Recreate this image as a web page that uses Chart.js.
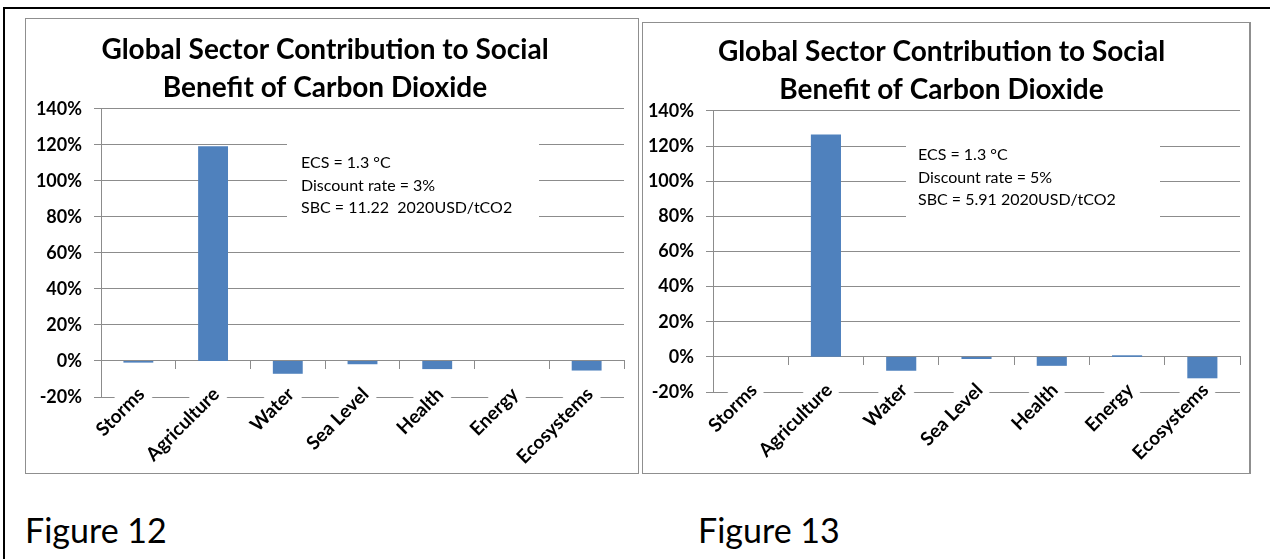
<!DOCTYPE html>
<html>
<head>
<meta charset="utf-8">
<script src="https://cdn.jsdelivr.net/npm/chart.js@4.4.0/dist/chart.umd.min.js"></script>
<style>
  body { margin: 0; width: 1270px; height: 559px; background: #fff; position: relative; overflow: hidden; font-family: Lato, sans-serif; }
  .frame { position: absolute; left: 3px; top: 7px; width: 1267px; height: 560px; border-top: 2px solid #000; border-left: 2px solid #000; }
  .panel { position: absolute; background: #fff; border: 1px solid #8f8f8f; }
  #p12 { left: 25px; top: 18px; width: 612px; height: 454px; }
  #p13 { left: 642px; top: 22px; width: 606px; height: 450px; border-right: 2px solid #8f8f8f; }
  .panel canvas { position: absolute; left: 0; top: 0; }
  .caption { position: absolute; top: 509px; font-size: 34px; color: #000; }
</style>
</head>
<body>
<div class="frame"></div>
<div class="panel" id="p12"><canvas id="fig12" width="612" height="454"></canvas></div>
<div class="panel" id="p13"><canvas id="fig13" width="606" height="450"></canvas></div>
<div class="caption" style="left:25px">Figure 12</div>
<div class="caption" style="left:698px">Figure 13</div>

<script>
const categories = ['Storms', 'Agriculture', 'Water', 'Sea Level', 'Health', 'Energy', 'Ecosystems'];
const fig12Values = [-0.009, 1.193, -0.071, -0.018, -0.045, 0, -0.053];
const fig13Values = [0, 1.266, -0.079, -0.012, -0.051, 0.009, -0.122];
const yTickMin = -0.2;
const yTickMax = 1.4;
const yTickStep = 0.2;
const chartTitle = ['Global Sector Contribution to Social', 'Benefit of Carbon Dioxide'];
const fig12Notes = ['ECS = 1.3 °C', 'Discount rate = 3%', 'SBC = 11.22  2020USD/tCO2'];
const fig13Notes = ['ECS = 1.3 °C', 'Discount rate = 5%', 'SBC = 5.91 2020USD/tCO2'];

const barColor = '#4f81bd';
const gridColor = '#8c8c8c';

// white text box with the parameters, drawn over the grid
const noteBox = {
    id: 'noteBox',
    beforeDatasetsDraw(chart, args, opts) {
        const ctx = chart.ctx;
        ctx.save();
        ctx.fillStyle = '#fff';
        ctx.fillRect(opts.x, opts.y, opts.w, opts.h);
        ctx.fillStyle = '#000';
        ctx.font = '16px Lato';
        ctx.textBaseline = 'alphabetic';
        opts.lines.forEach((t, i) => {
            ctx.fillText(t, opts.textX, opts.baseline + i * opts.lineGap);
        });
        ctx.restore();
    }
};

function makeChart(id, values, notes, axisWidth, pad, titleTop, box) {
    var ctx = document.getElementById(id).getContext('2d');
    return new Chart(ctx, {
        type: 'bar',
        data: {
            labels: categories,
            datasets: [{
                data: values,
                backgroundColor: barColor,
                borderWidth: 0,
                barPercentage: 0.4,
                categoryPercentage: 1
            }]
        },
        plugins: [noteBox],
        options: {
            responsive: false,
            animation: false,
            layout: { padding: pad },
            plugins: {
                legend: { display: false },
                tooltip: { enabled: false },
                title: {
                    display: true,
                    text: chartTitle,
                    color: '#000',
                    font: { family: 'Lato', size: 28, weight: 'bold', lineHeight: 1.357 },
                    padding: { top: titleTop, bottom: 2 }
                },
                noteBox: Object.assign({ lines: notes }, box)
            },
            scales: {
                y: {
                    min: yTickMin,
                    max: yTickMax,
                    ticks: {
                        stepSize: yTickStep,
                        color: '#000',
                        padding: 12,
                        font: { family: 'Lato', size: 18, weight: 'bold' },
                        callback: v => Math.round(v * 100) + '%'
                    },
                    grid: { color: gridColor, tickLength: 7 },
                    border: { color: gridColor },
                    afterFit(scale) { scale.width = axisWidth; }
                },
                x: {
                    position: { y: 0 },
                    offset: true,
                    grid: { offset: true, drawOnChartArea: false, tickLength: 8, color: gridColor },
                    border: { color: gridColor },
                    ticks: {
                        autoSkip: false,
                        minRotation: 45,
                        maxRotation: 45,
                        padding: 14,
                        labelOffset: -5,
                        color: '#000',
                        font: { family: 'Lato', size: 19, weight: 'bold' },
                        showLabelBackdrop: true,
                        backdropColor: '#fff',
                        backdropPadding: 3
                    }
                }
            }
        }
    });
}

document.addEventListener('DOMContentLoaded', function () {
    makeChart('fig12', fig12Values, fig12Notes, 75, { left: 0, right: 14, top: 0, bottom: 76 }, 12,
        { x: 261, y: 108, w: 252, h: 106, textX: 275, baseline: 149, lineGap: 22.5 });
    makeChart('fig13', fig13Values, fig13Notes, 70, { left: 0, right: 9, top: 0, bottom: 81 }, 10,
        { x: 263, y: 102, w: 254, h: 107, textX: 275, baseline: 137, lineGap: 22.5 });
});
</script>
</body>
</html>
